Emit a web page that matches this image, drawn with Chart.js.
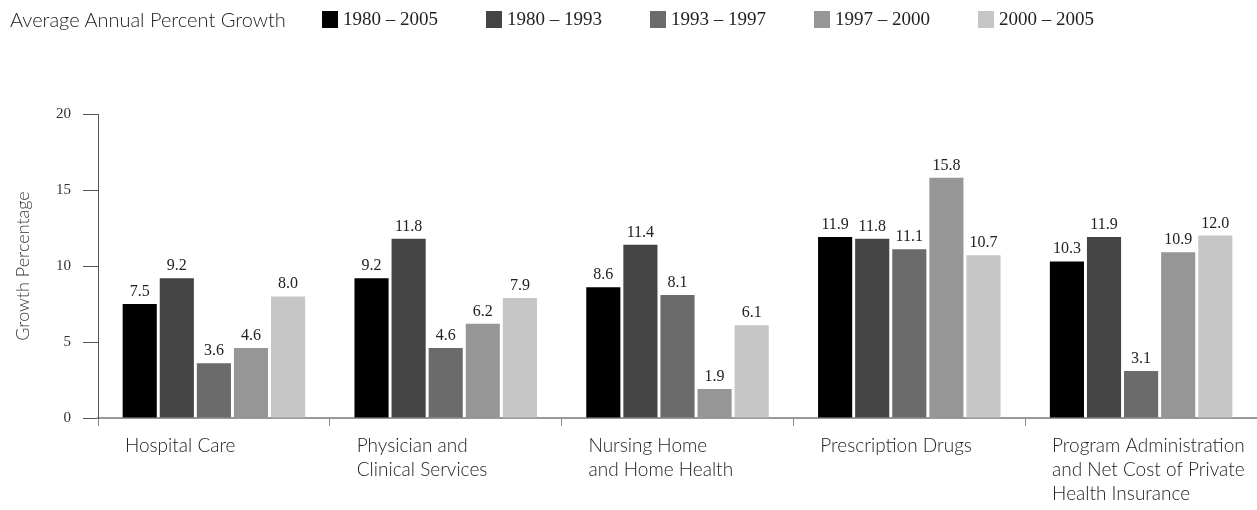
<!DOCTYPE html>
<html>
<head>
<meta charset="utf-8">
<script src="https://cdn.jsdelivr.net/npm/chart.js@4/dist/chart.umd.min.js"></script>
<style>
  body { margin: 0; background: #fff; }
  #wrap { position: relative; width: 1257px; height: 510px; }
  #legend {
    position: absolute; top: 7px; left: 10px;
    display: flex; align-items: center; height: 24px;
  }
  #legend .titulo {
    font-family: Lato, sans-serif; font-weight: 300; font-size: 20px; color: #222;
    margin-right: 36px;
  }
  #legend .item { display: flex; align-items: center; margin-right: 48px; }
  #legend .caja { width: 16px; height: 17px; margin-right: 5px; }
  #legend .txt { font-family: "Liberation Serif", serif; font-size: 19px; color: #222; }
</style>
</head>
<body>
<div id="wrap">
  <canvas id="grafico"></canvas>
  <div id="legend"></div>
</div>
<script>
// Datos
const categorias = [
    ['Hospital Care'],
    ['Physician and', 'Clinical Services'],
    ['Nursing Home', 'and Home Health'],
    ['Prescription Drugs'],
    ['Program Administration', 'and Net Cost of Private', 'Health Insurance']
];
const periodos = ['1980 – 2005', '1980 – 1993', '1993 – 1997', '1997 – 2000', '2000 – 2005'];
const serie1980_2005 = [7.5, 9.2, 8.6, 11.9, 10.3];
const serie1980_1993 = [9.2, 11.8, 11.4, 11.8, 11.9];
const serie1993_1997 = [3.6, 4.6, 8.1, 11.1, 3.1];
const serie1997_2000 = [4.6, 6.2, 1.9, 15.8, 10.9];
const serie2000_2005 = [8.0, 7.9, 6.1, 10.7, 12.0];
const colores = ['#000000', '#444444', '#6b6b6b', '#969696', '#c6c6c6'];
const ticksY = [0, 5, 10, 15, 20];

const series = [serie1980_2005, serie1980_1993, serie1993_1997, serie1997_2000, serie2000_2005];

// Leyenda en HTML
const legend = document.getElementById('legend');
legend.innerHTML = '<span class="titulo">Average Annual Percent Growth</span>' +
    periodos.map((p, i) =>
        `<span class="item"><span class="caja" style="background:${colores[i]}"></span><span class="txt">${p}</span></span>`
    ).join('');

// Etiquetas de valor encima de cada barra
const valoresPlugin = {
    id: 'valores',
    afterDatasetsDraw(chart) {
        const ctx = chart.ctx;
        ctx.save();
        ctx.font = '16px "Liberation Serif", serif';
        ctx.fillStyle = '#222';
        ctx.textAlign = 'center';
        ctx.textBaseline = 'alphabetic';
        chart.data.datasets.forEach((ds, i) => {
            chart.getDatasetMeta(i).data.forEach((bar, j) => {
                ctx.fillText(ds.data[j].toFixed(1), bar.x, bar.y - 8);
            });
        });
        ctx.restore();
    }
};

const ctx = document.getElementById('grafico').getContext('2d');
const miGrafico = new Chart(ctx, {
    type: 'bar',
    data: {
        labels: categorias,
        datasets: series.map((s, i) => ({
            label: periodos[i],
            data: s,
            backgroundColor: colores[i],
            borderWidth: 0,
            barPercentage: 0.92,
            categoryPercentage: 0.8
        }))
    },
    options: {
        responsive: true,
        maintainAspectRatio: false,
        animation: false,
        layout: { padding: { top: 114, right: 0, left: 0, bottom: 0 } },
        plugins: {
            legend: { display: false },
            tooltip: { enabled: false }
        },
        scales: {
            x: {
                grid: { display: true, drawOnChartArea: false, offset: true, tickLength: 8, color: '#888' },
                border: { color: '#999', width: 2 },
                ticks: {
                    align: 'start',
                    labelOffset: -89,
                    padding: 8,
                    maxRotation: 0,
                    autoSkip: false,
                    color: '#222',
                    font: { family: 'Lato', weight: 300, size: 19, lineHeight: 1.26 }
                },
                afterFit(scale) {
                    scale.height = 92;
                    scale.paddingLeft = 0;
                    scale.paddingRight = 0;
                }
            },
            y: {
                min: 0,
                max: 20,
                afterBuildTicks(scale) { scale.ticks = ticksY.map(v => ({ value: v })); },
                grid: { display: true, drawOnChartArea: false, tickLength: 15, color: '#555' },
                border: { color: '#555', width: 1 },
                ticks: {
                    padding: 12,
                    color: '#333',
                    font: { family: 'Liberation Serif', size: 15 }
                },
                title: {
                    display: true,
                    text: 'Growth Percentage',
                    color: '#333',
                    padding: { top: 12 },
                    font: { family: 'Lato', weight: 300, size: 18 }
                },
                afterFit(scale) { scale.width = 98; }
            }
        }
    },
    plugins: [valoresPlugin]
});
</script>
</body>
</html>
